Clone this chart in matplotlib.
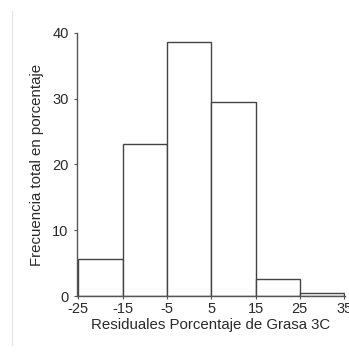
import matplotlib
matplotlib.use('Agg')
import matplotlib.pyplot as plt
from matplotlib.lines import Line2D

# datos del histograma
bordes = [-25, -15, -5, 5, 15, 25, 35]
porcentajes = [5.6, 23.1, 38.6, 29.5, 2.6, 0.4]
ticks_x = [-25, -15, -5, 5, 15, 25, 35]
ticks_y = [0, 10, 20, 30, 40]

plt.rcParams['font.family'] = ['Liberation Sans', 'DejaVu Sans']
plt.rcParams['axes.unicode_minus'] = False

fig = plt.figure(figsize=(3.49, 3.56), dpi=100)
ax = fig.add_axes([0.2206, 0.1685, 0.768, 0.739])

gris = '#555555'
texto = '#2a2a2a'

ancho = [b - a for a, b in zip(bordes[:-1], bordes[1:])]
ax.bar(bordes[:-1], porcentajes, width=ancho, align='edge',
       color='white', edgecolor='#444444', linewidth=1.0)

ax.set_xlim(-25.3, 35.2)
ax.set_ylim(0, 40)
ax.set_xticks(ticks_x)
ax.set_yticks(ticks_y)

for lado in ['top', 'right']:
    ax.spines[lado].set_visible(False)
for lado in ['left', 'bottom']:
    ax.spines[lado].set_color(gris)
    ax.spines[lado].set_linewidth(1.0)

ax.tick_params(axis='both', colors=gris, labelcolor=texto, labelsize=10.5,
               length=2, width=0.8)
ax.tick_params(axis='x', pad=2)
ax.tick_params(axis='y', pad=4)

ax.set_xlabel('Residuales Porcentaje de Grasa 3C', fontsize=10.8, color=texto, labelpad=2)
ax.set_ylabel('Frecuencia total en porcentaje', fontsize=10.8, color=texto, labelpad=6)

# borde tenue a la izquierda
fig.add_artist(Line2D([12 / 349, 12 / 349], [0.03, 0.97], transform=fig.transFigure,
                      color='#e6e6e6', linewidth=1))

fig.savefig('out.png', dpi=100)
